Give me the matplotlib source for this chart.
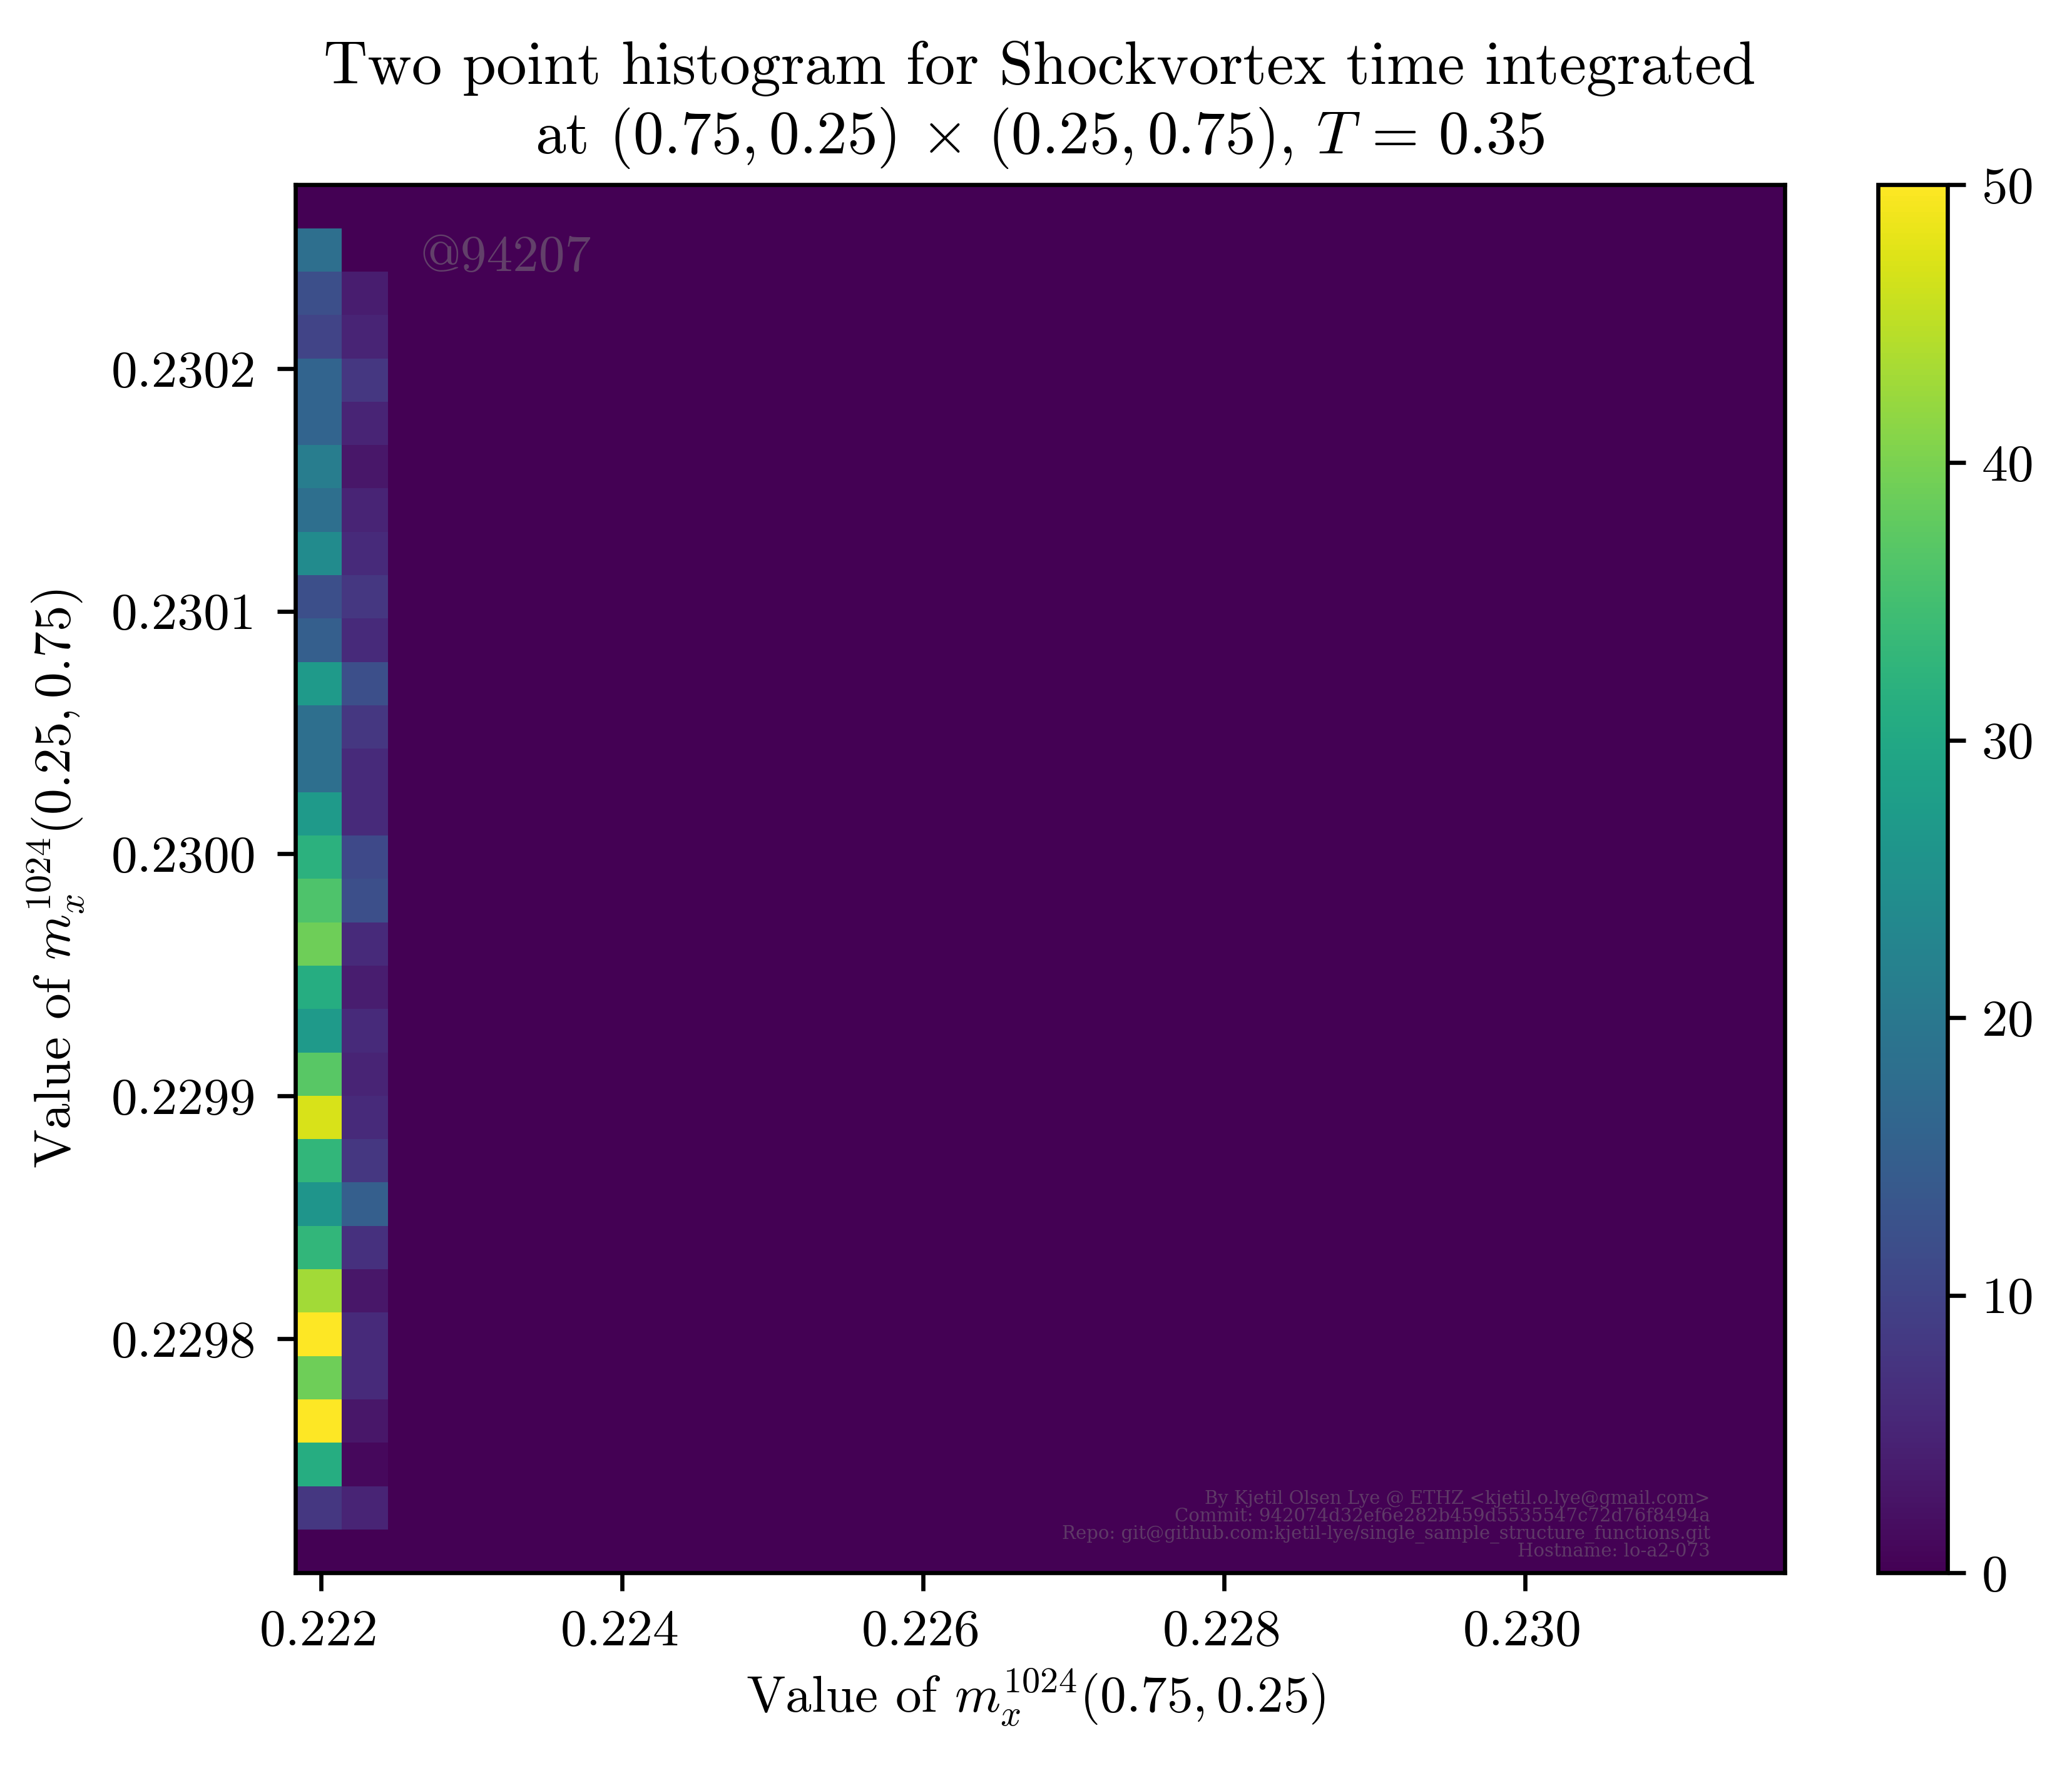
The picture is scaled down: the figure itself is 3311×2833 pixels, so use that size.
import numpy as np
import matplotlib
matplotlib.use("Agg")
import matplotlib.pyplot as plt
from matplotlib.transforms import ScaledTranslation

plt.rcParams['font.family'] = ['cmr10', 'DejaVu Serif']
plt.rcParams['mathtext.fontset'] = 'cm'
plt.rcParams['axes.unicode_minus'] = False
plt.rcParams['axes.formatter.use_mathtext'] = True

# histogram counts per row, top row first
col_0 = [0, 18, 12, 10, 16, 16, 21, 18, 24, 12, 15, 27, 18, 18, 27, 32,
         36, 39, 31, 27, 37, 47, 33, 26, 33, 43, 50, 39, 50, 31, 8, 0]
col_1 = [0, 0, 4, 5, 8, 5, 3, 5, 6, 8, 6, 12, 8, 6, 6, 11,
         12, 6, 4, 6, 5, 6, 8, 15, 7, 3, 6, 6, 3, 1, 5, 0]

x_range = [0.221827, 0.231723]
y_range = [0.2297034, 0.2302758]

x_ticks = [0.222, 0.224, 0.226, 0.228, 0.230]
x_labels = ['0.222', '0.224', '0.226', '0.228', '0.230']
y_ticks = [0.2298, 0.2299, 0.2300, 0.2301, 0.2302]
y_labels = ['0.2298', '0.2299', '0.2300', '0.2301', '0.2302']
cbar_ticks = [0, 10, 20, 30, 40, 50]

n_bins = 32
counts = np.zeros((n_bins, n_bins))
counts[:, 0] = col_0[::-1]
counts[:, 1] = col_1[::-1]
x_edges = np.linspace(x_range[0], x_range[1], n_bins + 1)
y_edges = np.linspace(y_range[0], y_range[1], n_bins + 1)

W, H = 3312, 2833
fig = plt.figure(figsize=(W / 600, H / 600), dpi=600)
ax = fig.add_axes([471.7 / W, 1 - 2513.3 / H, 2380 / W, 2218 / H])
cax = fig.add_axes([3000.7 / W, 1 - 2513.3 / H, 111 / W, 2218 / H])

mesh = ax.pcolormesh(x_edges, y_edges, counts, cmap='viridis', vmin=0, vmax=50)
ax.set_xlim(x_range)
ax.set_ylim(y_range)
ax.set_xticks(x_ticks, x_labels)
ax.set_yticks(y_ticks, y_labels)
ax.tick_params(axis='y', pad=4)
# labels sit a touch to the left of the ticks in the latex original
shift = ScaledTranslation(-0.5 / 72, 0, fig.dpi_scale_trans)
for lab in ax.get_xticklabels():
    lab.set_transform(lab.get_transform() + shift)

ax.set_xlabel(r'Value of $m_x^{1024}(0.75,0.25)$', labelpad=2.2, x=0.497)
ax.set_ylabel(r'Value of $m_x^{1024}(0.25,0.75)$', labelpad=4.7)
ax.set_title('Two point histogram for Shockvortex time integrated\n'
             r'at $(0.75,0.25)\,\times\,(0.25,0.75)$, $T\,=\,0.35$', fontsize=11.7)

cbar = fig.colorbar(mesh, cax=cax, ticks=cbar_ticks)
cbar.ax.tick_params(pad=3)

# watermarks
ax.text(0.084, 0.947, '@94207', transform=ax.transAxes, color='gray', alpha=0.5,
        fontsize=10, ha='left', va='center')
info = ('By Kjetil Olsen Lye @ ETHZ <kjetil.o.lye@gmail.com>\n'
        'Commit: 942074d32ef6e282b459d5535547c72d76f8494a\n'
        'Repo: git@github.com:kjetil-lye/single_sample_structure_functions.git\n'
        'Hostname: lo-a2-073')
ax.text(0.95, 0.009, info, transform=ax.transAxes, color='gray', alpha=0.45,
        family='DejaVu Serif', fontsize=3.5, linespacing=0.98, ha='right', va='bottom')

fig.savefig('out.png', dpi=600)
